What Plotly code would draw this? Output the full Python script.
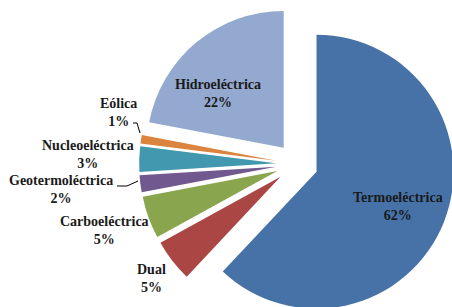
import plotly.graph_objects as go

labels = ["Termoeléctrica", "Dual", "Carboeléctrica", "Geotermoléctrica",
          "Nucleoeléctrica", "Eólica", "Hidroeléctrica"]
values = [62, 5, 5, 2, 3, 1, 22]
colors = ["#4672A8", "#AA4643", "#89A54E", "#71588F", "#4198AF", "#DB843D", "#93A9CF"]

# label block centres (pixels in the visible picture)
label_xy = [(398, 206), (151, 278), (104, 230), (61, 189), (88, 154), (119, 112), (218, 94)]
# leader lines (pixel paths) for the two crowded labels
leaders = [
    [(133, 123), (137, 123), (140, 133)],
    [(117, 186), (127, 186), (138, 181)],
]

# figure slightly larger than the window: the pie is cut at right/bottom like the reference
W, H = 470, 322
TOP = 6
FONT = "Liberation Serif"


def px_to_paper(px, py):
    return px / W, 1 - (py - TOP) / (H - TOP)


fig = go.Figure(go.Pie(
    labels=labels,
    values=values,
    sort=False,
    direction="clockwise",
    rotation=0,
    pull=0.153,
    marker=dict(colors=colors, line=dict(width=0)),
    textinfo="none",
    hoverinfo="label+percent",
    showlegend=False,
    domain=dict(x=[0.296, 0.968], y=[0, 1]),
    automargin=False,
))

annotations = []
for lab, val, (px, py) in zip(labels, values, label_xy):
    x, y = px_to_paper(px, py)
    annotations.append(dict(
        x=x, y=y, xref="paper", yref="paper",
        text=f"<b>{lab}</b><br><b>{val}%</b>", showarrow=False,
        xanchor="center", yanchor="middle", align="center",
    ))

shapes = []
for pts in leaders:
    conv = [px_to_paper(px, py) for px, py in pts]
    path = "M " + " L ".join(f"{x:.5f},{y:.5f}" for x, y in conv)
    shapes.append(dict(type="path", xref="paper", yref="paper", path=path,
                       line=dict(color="#000000", width=1)))

fig.update_layout(
    width=W, height=H,
    margin=dict(l=0, r=0, t=TOP, b=0),
    paper_bgcolor="white",
    plot_bgcolor="white",
    font=dict(family=FONT, size=14, color="#1a1a1a"),
    annotations=annotations,
    shapes=shapes,
)
fig.write_html(
    "out.html",
    config={"displayModeBar": False},
    post_script="document.body.style.margin='0';"
                "document.body.style.overflow='hidden';"
                "document.documentElement.style.overflow='hidden';",
)
